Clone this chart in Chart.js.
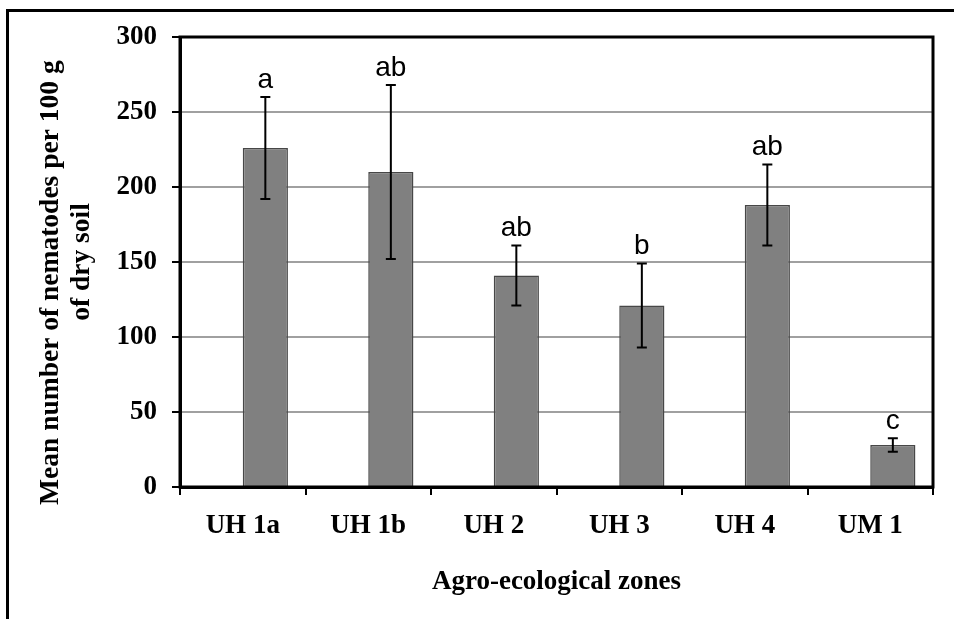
<!DOCTYPE html>
<html>
<head>
<meta charset="utf-8">
<script src="https://cdn.jsdelivr.net/npm/chart.js@4.4.1/dist/chart.umd.min.js"></script>
<style>
  html, body { margin: 0; padding: 0; background: #fff; }
  #wrap { width: 954px; height: 619px; }
</style>
</head>
<body>
<div id="wrap"><canvas id="chart" width="954" height="619"></canvas></div>
<script>
// Nematode counts per agro-ecological zone, bars with SE whiskers and letters.
const zones = ["UH 1a", "UH 1b", "UH 2", "UH 3", "UH 4", "UM 1"];
const means = [226, 210, 141, 121, 188, 28];
const errors = [34, 58, 20, 28, 27, 4.5];
const letters = ["a", "ab", "ab", "b", "ab", "c"];
const yTicks = [0, 50, 100, 150, 200, 250, 300];

const serifFamily = "'Liberation Serif', 'Times New Roman', serif";
const serifBold = { family: serifFamily, size: 27, weight: "bold", lineHeight: 1.2 };
const titleFont = { family: serifFamily, size: 27.5, weight: "bold", lineHeight: 1.13 };

// outer picture frame, cut off at right and bottom like the source image
const framePlugin = {
  id: "frame",
  beforeDraw(chart) {
    const ctx = chart.ctx;
    ctx.save();
    ctx.strokeStyle = "#000";
    ctx.lineWidth = 3;
    ctx.strokeRect(7.5, 10.5, chart.width + 20, chart.height + 20);
    ctx.restore();
  },
};

const errorPlugin = {
  id: "errorBars",
  afterDatasetsDraw(chart) {
    const ctx = chart.ctx;
    const y = chart.scales.y;
    const area = chart.chartArea;
    const meta = chart.getDatasetMeta(1);
    ctx.save();
    // plot frame
    ctx.strokeStyle = "#000";
    ctx.lineWidth = 3;
    ctx.strokeRect(area.left, area.top, area.right - area.left, area.bottom - area.top);

    ctx.lineWidth = 2;
    meta.data.forEach((bar, i) => {
      const top = y.getPixelForValue(means[i] + errors[i]);
      const bot = y.getPixelForValue(means[i] - errors[i]);
      ctx.beginPath();
      ctx.moveTo(bar.x, top);
      ctx.lineTo(bar.x, bot);
      ctx.moveTo(bar.x - 5, top);
      ctx.lineTo(bar.x + 5, top);
      ctx.moveTo(bar.x - 5, bot);
      ctx.lineTo(bar.x + 5, bot);
      ctx.stroke();

      ctx.fillStyle = "#000";
      ctx.font = "28px 'Liberation Sans', Arial, sans-serif";
      ctx.textAlign = "center";
      ctx.textBaseline = "middle";
      ctx.fillText(letters[i], bar.x, top - 17);
    });
    ctx.restore();
  },
};

new Chart(document.getElementById("chart"), {
  type: "bar",
  data: {
    labels: zones,
    datasets: [
      { label: "", data: zones.map(() => null) },
      {
        label: "Mean",
        data: means,
        backgroundColor: "#808080",
        borderColor: "#474747",
        borderWidth: 1.5,
      },
    ],
  },
  options: {
    responsive: false,
    animation: false,
    categoryPercentage: 0.72,
    barPercentage: 1.0,
    layout: { padding: { left: 10, top: 37, right: 21, bottom: 0 } },
    plugins: { legend: { display: false }, tooltip: { enabled: false } },
    scales: {
      x: {
        offset: true,
        grid: { display: true, drawOnChartArea: false, offset: true, tickLength: 8, tickColor: "#000", lineWidth: 2 },
        border: { color: "#000", width: 3 },
        ticks: { color: "#000", font: serifBold, padding: 15 },
        title: { display: true, text: "Agro-ecological zones", color: "#000", font: serifBold, padding: { top: 0, bottom: 21 } },
        afterFit: (scale) => { scale.height = 132; },
      },
      y: {
        min: 0,
        max: 300,
        afterBuildTicks: (scale) => { scale.ticks = yTicks.map((v) => ({ value: v })); },
        grid: { color: "#a0a0a0", lineWidth: 2, tickLength: 8, tickColor: "#000" },
        border: { color: "#000", width: 3 },
        ticks: { color: "#000", font: serifBold, padding: 15 },
        title: {
          display: true,
          // trailing spaces push the first line down, as in the source
          text: ["Mean number of nematodes per 100 g      ", "of dry soil"],
          color: "#000",
          font: titleFont,
          padding: { top: 25, bottom: 0 },
        },
        afterFit: (scale) => { scale.width = 170; },
      },
    },
  },
  plugins: [framePlugin, errorPlugin],
});
</script>
</body>
</html>
